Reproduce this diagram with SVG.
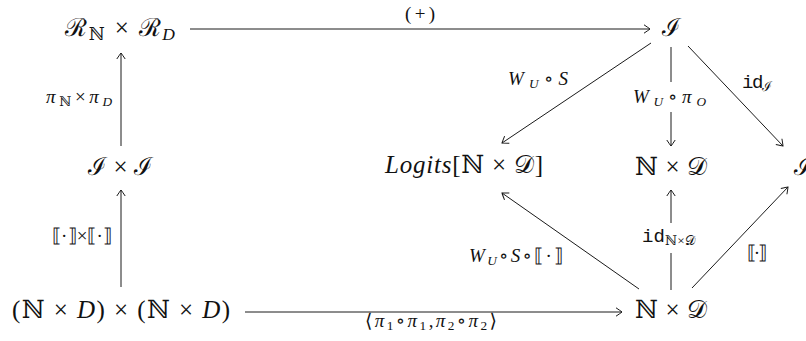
<svg xmlns="http://www.w3.org/2000/svg" width="806" height="341" viewBox="0 0 806 341">
<style>
.n{font-family:"Liberation Serif","DejaVu Serif",serif;font-size:25px;fill:#111}
.l{font-family:"Liberation Serif","DejaVu Serif",serif;font-size:19px;fill:#111}
.i{font-style:italic}
.m{font-family:"Liberation Mono","DejaVu Sans Mono",monospace}
.c{text-anchor:middle}
.s{font-size:70%}
line{stroke:#1a1a1a;stroke-width:1;fill:none}
</style>
<defs>
<marker id="ah" markerUnits="userSpaceOnUse" markerWidth="12" markerHeight="12" viewBox="-7 -6 9 12" refX="0" refY="0" orient="auto">
<path d="M-6,-4.2 Q-1.5,-1.2 0,0 Q-1.5,1.2 -6,4.2" fill="none" stroke="#1a1a1a" stroke-width="1"/>
</marker>
</defs>
<g id="connectors">
<line x1="190" y1="29" x2="650" y2="29" marker-end="url(#ah)"/>
<line x1="121" y1="146" x2="121" y2="53" marker-end="url(#ah)"/>
<line x1="121" y1="287" x2="121" y2="190" marker-end="url(#ah)"/>
<line x1="245" y1="312" x2="622" y2="312" marker-end="url(#ah)"/>
<line x1="651" y1="43" x2="502" y2="143" marker-end="url(#ah)"/>
<line x1="671" y1="47" x2="671" y2="82"/>
<line x1="671" y1="112" x2="671" y2="146" marker-end="url(#ah)"/>
<line x1="688" y1="46" x2="783" y2="146" marker-end="url(#ah)"/>
<line x1="639" y1="289" x2="502" y2="193" marker-end="url(#ah)"/>
<line x1="671" y1="290" x2="671" y2="253"/>
<line x1="671" y1="223" x2="671" y2="190" marker-end="url(#ah)"/>
<line x1="692" y1="288" x2="788" y2="187" marker-end="url(#ah)"/>
<text class="l" x="405" y="20" textLength="30" lengthAdjust="spacing">(+)</text>
<text class="l" x="46" y="103" textLength="66" lengthAdjust="spacing"><tspan class="i">π</tspan><tspan class="s" dy="3">ℕ</tspan><tspan dy="-3">×</tspan><tspan class="i">π</tspan><tspan class="s i" dy="3">D</tspan></text>
<text class="l" x="52" y="242" textLength="60" lengthAdjust="spacing">⟦·⟧×⟦·⟧</text>
<text class="l" x="365" y="327" textLength="132" lengthAdjust="spacing">⟨<tspan class="i">π</tspan><tspan class="s" dy="3">1</tspan><tspan dy="-3">∘</tspan><tspan class="i">π</tspan><tspan class="s" dy="3">1</tspan><tspan dy="-3">,</tspan><tspan class="i">π</tspan><tspan class="s" dy="3">2</tspan><tspan dy="-3">∘</tspan><tspan class="i">π</tspan><tspan class="s" dy="3">2</tspan><tspan dy="-3">⟩</tspan></text>
<text class="l" x="508" y="85" textLength="60" lengthAdjust="spacing"><tspan class="i">W</tspan><tspan class="s i" dy="3">U</tspan><tspan dy="-3">∘</tspan><tspan class="i">S</tspan></text>
<text class="l" x="633" y="103" textLength="73" lengthAdjust="spacing"><tspan class="i">W</tspan><tspan class="s i" dy="3">U</tspan><tspan dy="-3">∘</tspan><tspan class="i">π</tspan><tspan class="s i" dy="3">O</tspan></text>
<text class="l" x="742" y="88" textLength="30" lengthAdjust="spacing"><tspan class="m">id</tspan><tspan class="s" dy="3">ℐ</tspan></text>
<text class="l" x="469" y="262" textLength="94" lengthAdjust="spacing"><tspan class="i">W</tspan><tspan class="s i" dy="3">U</tspan><tspan dy="-3">∘</tspan><tspan class="i">S</tspan><tspan>∘⟦·⟧</tspan></text>
<text class="l" x="642" y="242" textLength="53" lengthAdjust="spacing"><tspan class="m">id</tspan><tspan class="s" dy="3">ℕ×𝒟</tspan></text>
<text class="l" x="747" y="259" textLength="20" lengthAdjust="spacing">⟦·⟧</text>
</g>
<g id="n-rr"><text class="n" x="65" y="36" textLength="110" lengthAdjust="spacing">ℛ<tspan class="s" dy="4">ℕ</tspan><tspan dy="-4"> × ℛ</tspan><tspan class="s i" dy="4">D</tspan></text></g>
<g id="n-i-top"><text class="n c" x="671" y="36">ℐ</text></g>
<g id="n-ii"><text class="n" x="88" y="175" textLength="65" lengthAdjust="spacing">ℐ × ℐ</text></g>
<g id="n-logits"><text class="n" x="385" y="173" textLength="158" lengthAdjust="spacing"><tspan class="i">Logits</tspan>[ℕ × 𝒟]</text></g>
<g id="n-nd-mid"><text class="n" x="635" y="175" textLength="72" lengthAdjust="spacing">ℕ × 𝒟</text></g>
<g id="n-i-right"><text class="n" x="794" y="175">ℐ</text></g>
<g id="n-ndnd"><text class="n" x="12" y="318" textLength="218" lengthAdjust="spacing">(ℕ × <tspan class="i">D</tspan>) × (ℕ × <tspan class="i">D</tspan>)</text></g>
<g id="n-nd-bot"><text class="n" x="635" y="318" textLength="72" lengthAdjust="spacing">ℕ × 𝒟</text></g>
</svg>
